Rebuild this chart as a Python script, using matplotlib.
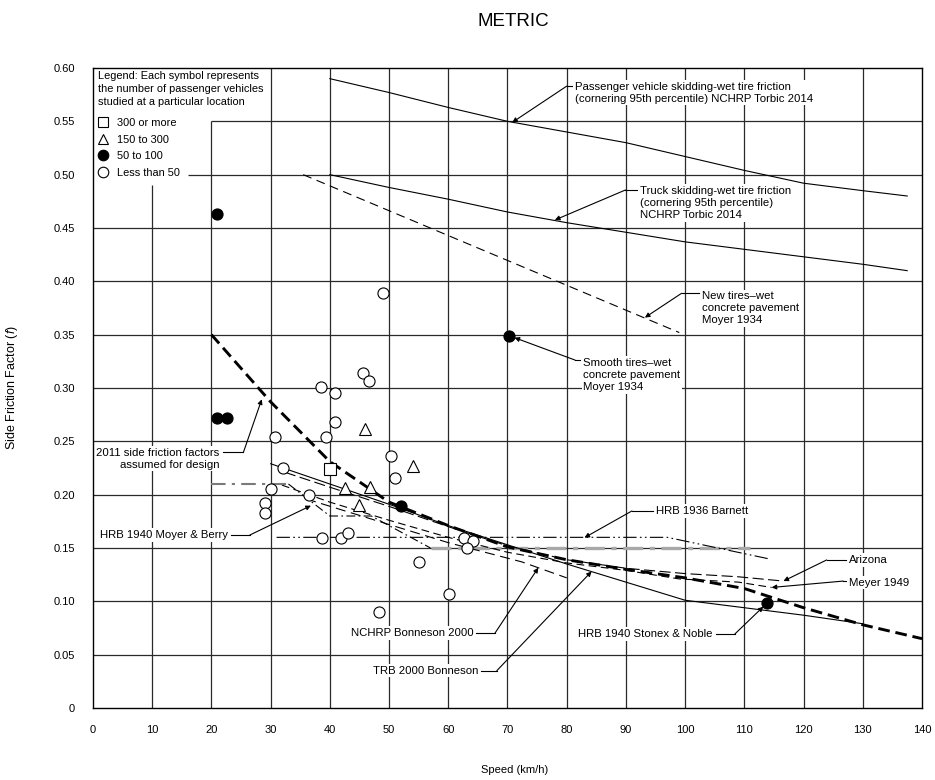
import numpy as np
import matplotlib.pyplot as plt

plt.rcParams['font.family'] = ['Liberation Sans', 'DejaVu Sans']
plt.rcParams['mathtext.fontset'] = 'custom'
plt.rcParams['mathtext.it'] = 'Liberation Sans:italic'
plt.rcParams['mathtext.rm'] = 'Liberation Sans'

# --- curves (speed km/h, side friction factor) ---
pass_x = [40, 50, 60, 70, 80, 90, 100, 110, 120, 130, 137.5]
pass_f = [0.590, 0.577, 0.563, 0.550, 0.540, 0.530, 0.517, 0.504, 0.492, 0.485, 0.480]

truck_x = [40, 50, 60, 70, 80, 90, 100, 110, 120, 130, 137.5]
truck_f = [0.500, 0.488, 0.477, 0.465, 0.455, 0.446, 0.437, 0.430, 0.423, 0.416, 0.410]

newtire_x = [35.5, 99]
newtire_f = [0.500, 0.352]

design_x = [20, 30, 40, 50, 60, 70, 80, 90, 100, 110, 120, 130, 140]
design_f = [0.350, 0.287, 0.231, 0.193, 0.171, 0.151, 0.139, 0.130, 0.122, 0.112, 0.094, 0.078, 0.065]

stonex_x = [30, 40, 50, 60, 70, 80, 90, 100, 110, 120, 130]
stonex_f = [0.229, 0.210, 0.191, 0.171, 0.153, 0.135, 0.118, 0.101, 0.094, 0.087, 0.079]

arizona_x = [32.4, 40, 50, 60, 70, 80, 90, 100, 109, 116.6]
arizona_f = [0.221, 0.207, 0.189, 0.170, 0.152, 0.139, 0.131, 0.126, 0.123, 0.119]

meyer_x = [31.9, 40, 50, 60, 70, 80, 90, 99, 109, 114.6]
meyer_f = [0.209, 0.193, 0.176, 0.160, 0.146, 0.136, 0.129, 0.121, 0.118, 0.113]

bonneson_x = [36, 50, 60, 72.4, 80]
bonneson_f = [0.196, 0.172, 0.155, 0.137, 0.122]

moyer_x = [20, 33, 40, 47, 57, 111]
moyer_f = [0.210, 0.210, 0.180, 0.180, 0.150, 0.150]

barnett_x = [31, 97, 114]
barnett_f = [0.160, 0.160, 0.140]

# --- observations ---
sq_x = [40.0]
sq_f = [0.224]
tri_x = [45.9, 54.1, 42.6, 46.7, 45.0]
tri_f = [0.262, 0.227, 0.206, 0.207, 0.190]
dot_x = [20.9, 20.9, 22.6, 70.3, 52.0, 113.8]
dot_f = [0.463, 0.272, 0.272, 0.349, 0.189, 0.098]
circ_x = [48.9, 45.6, 46.6, 38.5, 40.9, 40.9, 30.8, 39.3, 50.3, 51.0, 32.1, 30.0,
          36.5, 29.0, 29.0, 38.6, 41.9, 43.0, 55.1, 62.7, 64.2, 63.1, 48.3, 60.1]
circ_f = [0.389, 0.314, 0.307, 0.301, 0.295, 0.268, 0.254, 0.254, 0.236, 0.216, 0.225, 0.205,
          0.200, 0.192, 0.183, 0.159, 0.159, 0.164, 0.137, 0.159, 0.157, 0.150, 0.090, 0.107]

grid_x = [10, 20, 30, 40, 50, 60, 70, 80, 90, 100, 110, 120, 130]
grid_x_top = [0.49, 0.55, 0.6, 0.6, 0.6, 0.6, 0.6, 0.6, 0.6, 0.6, 0.6, 0.6, 0.6]
grid_y = [0.05, 0.10, 0.15, 0.20, 0.25, 0.30, 0.35, 0.40, 0.45, 0.50, 0.55]
grid_y_left = [0, 0, 0, 0, 0, 0, 0, 0, 0, 16, 20]

fs = 8.2
lfs = 7.9
box = dict(fc='white', ec='none', pad=1.2)

fig = plt.figure(figsize=(9.35, 7.8), dpi=100)
ax = fig.add_axes([93/935, 1-708/780, 829/935, 640/780])
ax.set_xlim(0, 140)
ax.set_ylim(0, 0.60)

ax.vlines(grid_x, 0, grid_x_top, colors='#2a2a2a', lw=0.9, zorder=1)
ax.hlines(grid_y, grid_y_left, 140, colors='#2a2a2a', lw=0.9, zorder=1)
for s in ax.spines.values():
    s.set_linewidth(1.0)

ax.set_xticks(np.arange(0, 141, 10))
ax.set_yticks(np.arange(0, 0.61, 0.05))
ax.set_yticklabels(['0'] + ['%.2f' % v for v in np.arange(0.05, 0.61, 0.05)])
ax.tick_params(length=0, labelsize=8)
ax.tick_params(axis='x', pad=12)
ax.tick_params(axis='y', pad=13)

thin = dict(color='black', lw=0.8, zorder=3)
ax.plot(pass_x, pass_f, **thin)
ax.plot(truck_x, truck_f, **thin)
ax.plot(newtire_x, newtire_f, dashes=[8, 5], **thin)
ax.plot(stonex_x, stonex_f, **thin)
ax.plot(arizona_x, arizona_f, dashes=[10, 4], **thin)
ax.plot(meyer_x, meyer_f, dashes=[7, 4], **thin)
ax.plot(bonneson_x, bonneson_f, dashes=[9, 5], **thin)
ax.plot(barnett_x, barnett_f, dashes=[12, 3, 1.5, 3, 1.5, 3], **thin)
# Moyer & Berry: flat steps drawn grey, the drops in thin dash-dot
ax.plot(moyer_x[:2], moyer_f[:2], color='#7a7a7a', lw=1.5, dashes=[7, 3, 1.5, 3], zorder=3)
ax.plot(moyer_x[1:5], moyer_f[1:5], dashes=[8, 3, 1.5, 3], **thin)
ax.plot(moyer_x[4:], moyer_f[4:], color='#a8a8a8', lw=2.4, dashes=[6, 2, 1.5, 2], zorder=2)
ax.plot(design_x, design_f, color='black', lw=2.1, dashes=[4, 2], zorder=3)

mk = dict(linestyle='none', color='black', markersize=8, zorder=4)
ax.plot(sq_x, sq_f, marker='s', mfc='white', mew=0.8, label='300 or more', **mk)
ax.plot(tri_x, tri_f, marker='^', mfc='white', mew=0.8, label='150 to 300', **mk)
ax.plot(dot_x, dot_f, marker='o', mfc='black', mew=0.8, label='50 to 100', **mk)
ax.plot(circ_x, circ_f, marker='o', mfc='white', mew=0.8, label='Less than 50', **mk)

ax.text(0.8, 0.5975, 'Legend: Each symbol represents\nthe number of passenger vehicles\nstudied at a particular location',
        ha='left', va='top', fontsize=lfs, linespacing=1.38, zorder=6)
leg = ax.legend(loc='upper left', bbox_to_anchor=(0.006, 0.922), frameon=False,
                fontsize=lfs, handlelength=1.0, handletextpad=0.75, labelspacing=0.6,
                borderpad=0, borderaxespad=0, markerscale=0.95)
leg.set_zorder(6)


def callout(text, tx, ty, kink, tip, ha='left', shrink=0, size=fs):
    ax.text(tx, ty, text, ha=ha, va='center', fontsize=size, linespacing=1.24,
            multialignment=ha, bbox=box, zorder=6)
    sx = tx - 0.5 if ha == 'left' else tx + 0.5
    ax.plot([kink[0], sx], [kink[1], kink[1]], color='black', lw=0.8, zorder=7)
    ax.annotate('', xy=tip, xytext=kink,
                arrowprops=dict(arrowstyle='-|>', color='black', lw=0.8,
                                mutation_scale=7, shrinkA=0, shrinkB=shrink),
                zorder=7)


callout('Passenger vehicle skidding-wet tire friction\n(cornering 95th percentile) NCHRP Torbic 2014',
        81.4, 0.5768, (80.0, 0.583), (70.8, 0.549))
callout('Truck skidding-wet tire friction\n(cornering 95th percentile)\nNCHRP Torbic 2014',
        92.4, 0.4735, (89.9, 0.4856), (78.0, 0.4575))
callout('New tires\u2013wet\nconcrete pavement\nMoyer 1934',
        102.8, 0.3747, (99.4, 0.3888), (93.2, 0.3660))
callout('Smooth tires\u2013wet\nconcrete pavement\nMoyer 1934',
        82.8, 0.3122, (81.4, 0.3262), (70.3, 0.349), shrink=4)
callout('2011 side friction factors\nassumed for design',
        21.4, 0.2337, (25.4, 0.2397), (28.5, 0.2894), ha='right')
callout('HRB 1940 Moyer & Berry', 22.85, 0.1622, (26.5, 0.1622), (36.8, 0.1897), ha='right')
callout('HRB 1936 Barnett', 95.1, 0.1847, (91.0, 0.1847), (83.0, 0.1597))
callout('Arizona', 127.6, 0.1388, (123.9, 0.1388), (116.6, 0.119))
callout('Meyer 1949', 127.6, 0.1175, (126.7, 0.119), (114.6, 0.113))
callout('NCHRP Bonneson 2000', 64.2, 0.0703, (67.9, 0.0703), (75.2, 0.1315), ha='right')
callout('TRB 2000 Bonneson', 65.0, 0.035, (68.2, 0.035), (84.2, 0.128), ha='right')
callout('HRB 1940 Stonex & Noble', 104.7, 0.0694, (108.4, 0.0694), (113.2, 0.095), ha='right')

fig.text(515/935, 1-770/780, 'Speed (km/h)', ha='center', va='center', fontsize=8)
fig.text(12/935, 1-388/780, 'Side Friction Factor ($\\it{f}$)', ha='center', va='center',
         rotation=90, fontsize=9)
fig.text(513/935, 1-22/780, 'METRIC', ha='center', va='center', fontsize=13.5)

fig.savefig('out.png', dpi=100, facecolor='white')
